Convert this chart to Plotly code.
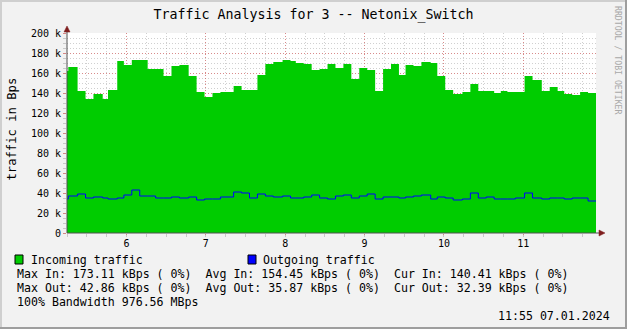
import plotly.graph_objects as go

# ---------------- data ----------------
DATE = "2024-01-07"
step_times = ["05:15", "05:16", "05:23", "05:29", "05:35", "05:42", "05:46", "05:53", "05:58", "06:04",
              "06:10", "06:16", "06:22", "06:28", "06:34", "06:40", "06:47", "06:53", "06:59", "07:05",
              "07:11", "07:16", "07:21", "07:27", "07:33", "07:39", "07:45", "07:51", "07:58", "08:04",
              "08:08", "08:14", "08:20", "08:26", "08:32", "08:38", "08:44", "08:50", "08:56", "09:02",
              "09:08", "09:14", "09:20", "09:26", "09:31", "09:37", "09:43", "09:50", "09:55", "10:01",
              "10:07", "10:14", "10:20", "10:26", "10:32", "10:38", "10:43", "10:48", "10:54", "11:01",
              "11:07", "11:14", "11:20", "11:26", "11:31", "11:37", "11:43", "11:49"]
end_time = "11:55"

incoming_k = [162, 166, 142, 134, 139, 134, 143, 172, 168, 173,
              173, 164, 164, 157, 167, 168, 157, 141, 136, 140,
              141, 141, 147, 143, 143, 158, 169, 171, 173, 172,
              170, 169, 163, 164, 169, 165, 169, 154, 165, 163,
              142, 164, 169, 158, 168, 167, 171, 170, 157, 143,
              139, 141, 149, 142, 142, 140, 142, 141, 141, 157,
              153, 142, 146, 142, 139, 138, 141, 140]
outgoing_k = [34, 37, 39, 35, 36, 35, 34, 35, 38, 43,
              37, 37, 35, 35, 36, 35, 36, 33, 34, 34,
              36, 36, 41, 40, 35, 39, 37, 36, 37, 35,
              35, 36, 38, 35, 34, 37, 38, 35, 37, 39,
              34, 36, 36, 35, 36, 37, 38, 34, 36, 35,
              33, 34, 40, 35, 36, 34, 34, 34, 35, 40,
              35, 34, 35, 35, 34, 35, 35, 32]

hour_ticks = ["06:00", "07:00", "08:00", "09:00", "10:00", "11:00"]
hour_labels = ["6", "7", "8", "9", "10", "11"]
y_ticks = [0, 20, 40, 60, 80, 100, 120, 140, 160, 180, 200]
y_labels = ["0", "20 k", "40 k", "60 k", "80 k", "100 k", "120 k", "140 k", "160 k", "180 k", "200 k"]

title_text = "Traffic Analysis for 3 -- Netonix_Switch"
y_title = "traffic in Bps"
legend_names = ["Incoming traffic", "Outgoing traffic"]
legend_colors = ["#00CC00", "#0000FF"]
stats_in = "Max In: 173.11 kBps ( 0%)  Avg In: 154.45 kBps ( 0%)  Cur In: 140.41 kBps ( 0%)"
stats_out = "Max Out: 42.86 kBps ( 0%)  Avg Out: 35.87 kBps ( 0%)  Cur Out: 32.39 kBps ( 0%)"
bandwidth_line = "100% Bandwidth 976.56 MBps"
timestamp = "11:55 07.01.2024"
watermark = "RRDTOOL / TOBI OETIKER"

# ---------------- layout helpers ----------------
W, H = 627, 329
L, R, T, B = 67, 596, 33, 233
MONO = "DejaVu Sans Mono"


def px(x):
    return (x - L) / (R - L)


def py(y):
    return (B - y) / (B - T)


def nb(s):
    return s.replace(" ", "\u00a0")


xs = [f"{DATE} {t}" for t in step_times] + [f"{DATE} {end_time}"]
inc = incoming_k + [incoming_k[-1]]
out = outgoing_k + [outgoing_k[-1]]

fig = go.Figure()
fig.add_trace(go.Scatter(x=xs, y=inc, mode="lines", line=dict(shape="hv", width=0, color=legend_colors[0]),
                         fill="tozeroy", fillcolor=legend_colors[0], name=legend_names[0], hoverinfo="skip"))
fig.add_trace(go.Scatter(x=xs, y=out, mode="lines", line=dict(shape="hv", width=1, color=legend_colors[1]),
                         name=legend_names[1], hoverinfo="skip"))

minor_grid = "rgba(143,143,143,0.42)"
major_grid = "rgba(222,80,80,0.55)"
dash = "1px,2px"

fig.update_layout(
    width=W, height=H, autosize=False,
    margin=dict(l=L, r=W - R, t=T, b=H - B, pad=0),
    paper_bgcolor="#F2F2F2", plot_bgcolor="#FFFFFF",
    showlegend=False,
    font=dict(family=MONO, color="#000000", size=10),
    title=dict(text=title_text, x=0.5, xref="container", xanchor="center",
               y=1 - 14 / H, yref="container", yanchor="middle",
               font=dict(family=MONO, size=13.3, color="#000000")),
    xaxis=dict(type="date", range=[f"{DATE} 05:15", f"{DATE} {end_time}"],
               tickvals=[f"{DATE} {t}" for t in hour_ticks], ticktext=hour_labels,
               showgrid=True, gridcolor=major_grid, griddash=dash, gridwidth=1,
               ticks="outside", ticklen=1, tickcolor=major_grid,
               tickfont=dict(family=MONO, size=10),
               minor=dict(dtick=15 * 60 * 1000, tick0=f"{DATE} 00:00", showgrid=True,
                          gridcolor=minor_grid, griddash=dash, gridwidth=1,
                          ticks="outside", ticklen=3, tickcolor=minor_grid),
               showline=False, zeroline=False, fixedrange=True),
    yaxis=dict(range=[0, 200], tickvals=y_ticks, ticktext=y_labels,
               showgrid=True, gridcolor=major_grid, griddash=dash, gridwidth=1,
               ticks="outside", ticklen=3, tickcolor=major_grid,
               tickfont=dict(family=MONO, size=10),
               minor=dict(dtick=5, showgrid=True, gridcolor=minor_grid, griddash=dash,
                          gridwidth=1, ticks="outside", ticklen=3, tickcolor=minor_grid),
               showline=False, zeroline=False, fixedrange=True),
)

shapes = []
# border shading
shapes.append(dict(type="rect", xref="paper", yref="paper", x0=px(0), x1=px(W), y0=py(0), y1=py(2),
                   fillcolor="#CFCFCF", line=dict(width=0), layer="above"))
shapes.append(dict(type="rect", xref="paper", yref="paper", x0=px(0), x1=px(2), y0=py(0), y1=py(H),
                   fillcolor="#CFCFCF", line=dict(width=0), layer="above"))
shapes.append(dict(type="rect", xref="paper", yref="paper", x0=px(W - 2), x1=px(W), y0=py(0), y1=py(H),
                   fillcolor="#9E9E9E", line=dict(width=0), layer="above"))
shapes.append(dict(type="rect", xref="paper", yref="paper", x0=px(0), x1=px(W), y0=py(H - 2), y1=py(H),
                   fillcolor="#9E9E9E", line=dict(width=0), layer="above"))
# axes lines
shapes.append(dict(type="line", xref="paper", yref="paper", x0=px(L), x1=px(601), y0=py(B), y1=py(B),
                   line=dict(color="#505050", width=1), layer="above"))
shapes.append(dict(type="line", xref="paper", yref="paper", x0=px(L), x1=px(L), y0=py(B), y1=py(29),
                   line=dict(color="#505050", width=1), layer="above"))
# arrows
ac = "#7F1F1F"
shapes.append(dict(type="path", xref="paper", yref="paper",
                   path=f"M {px(64)} {py(32)} L {px(70)} {py(32)} L {px(67)} {py(26)} Z",
                   fillcolor=ac, line=dict(color=ac, width=0.5), layer="above"))
shapes.append(dict(type="path", xref="paper", yref="paper",
                   path=f"M {px(599)} {py(230)} L {px(599)} {py(236)} L {px(605)} {py(233)} Z",
                   fillcolor=ac, line=dict(color=ac, width=0.5), layer="above"))
# legend boxes
for bx, col in zip([15, 248], legend_colors):
    shapes.append(dict(type="rect", xref="paper", yref="paper", x0=px(bx), x1=px(bx + 8),
                       y0=py(255), y1=py(264), fillcolor=col, line=dict(color="#000000", width=1)))
fig.update_layout(shapes=shapes)

annotations = []


def txt(text, x, y, size=11.6, xanchor="left", color="#000000", angle=0, yanchor="middle"):
    annotations.append(dict(text=nb(text), x=px(x), y=py(y), xref="paper", yref="paper",
                            xanchor=xanchor, yanchor=yanchor, showarrow=False, borderpad=0,
                            textangle=angle, font=dict(family=MONO, size=size, color=color)))


txt(legend_names[0], 30, 259.5)
txt(legend_names[1], 262, 259.5)
txt(stats_in, 15.5, 273.5)
txt(stats_out, 15.5, 287.5)
txt(bandwidth_line, 15.5, 301.5)
txt(timestamp, 610.5, 315.5, xanchor="right")
txt(y_title, 11.5, 129, size=12.2, xanchor="center", angle=-90)
txt(watermark, 618, 60, size=8.2, xanchor="center", color="#A8A8A8", angle=90)
fig.update_layout(annotations=annotations)

fig.write_html("out.html")
